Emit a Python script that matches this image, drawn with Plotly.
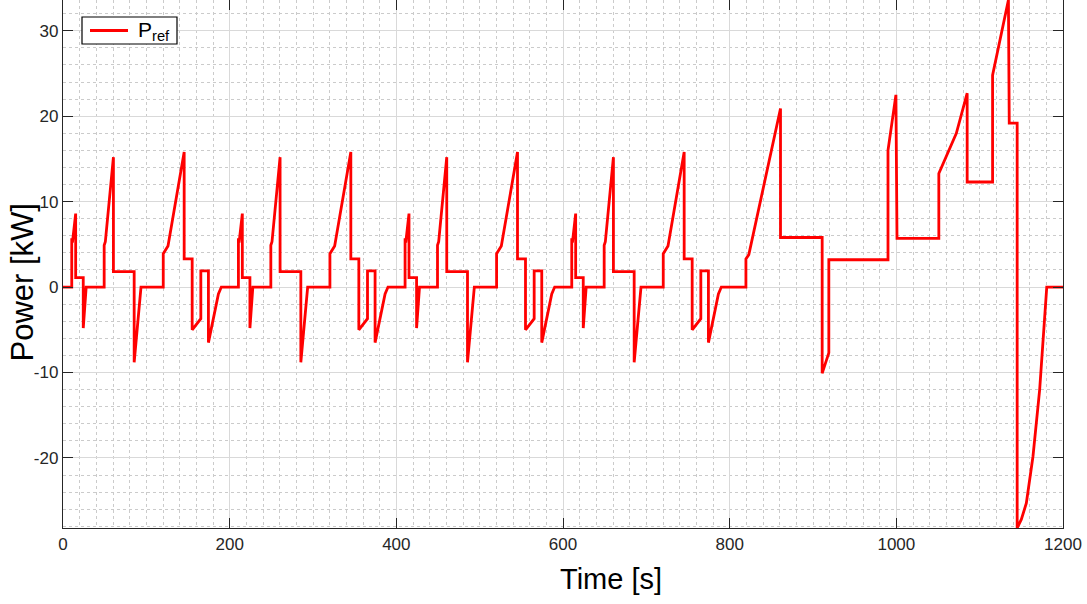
import plotly.graph_objects as go

# ---- data (time in s, power in kW) ----
cycle1_t = [0, 10.5, 10.5, 11.3, 15.2, 15.2, 24.3, 24.3, 27.8, 49.4, 49.4, 50.8, 60.5, 60.5,
            85.4, 85.4, 93.6, 120.3, 120.3, 126.0, 145.4, 145.4, 155.0, 155.0, 165.4, 165.4,
            174.5, 174.5, 186.5, 190.0]
cycle1_p = [0, 0, 5.7, 5.2, 8.6, 1.1, 1.1, -4.8, 0, 0, 4.9, 5.3, 15.2, 1.8,
            1.8, -8.8, 0, 0, 3.9, 4.8, 15.8, 3.3, 3.3, -5.0, -3.7, 1.9,
            1.9, -6.5, -0.8, 0]

cycle2_t = [200, 210.5, 210.5, 211.3, 215.2, 215.2, 224.3, 224.3, 227.8, 249.4, 249.4, 250.8, 260.5, 260.5,
            285.4, 285.4, 293.6, 320.3, 320.3, 326.0, 345.4, 345.4, 355.0, 355.0, 365.4, 365.4,
            374.5, 374.5, 386.5, 390.0]
cycle2_p = [0, 0, 5.7, 5.2, 8.6, 1.1, 1.1, -4.8, 0, 0, 4.9, 5.3, 15.2, 1.8,
            1.8, -8.8, 0, 0, 3.9, 4.8, 15.8, 3.3, 3.3, -5.0, -3.7, 1.9,
            1.9, -6.5, -0.8, 0]

cycle3_t = [400, 410.5, 410.5, 411.3, 415.2, 415.2, 424.3, 424.3, 427.8, 449.4, 449.4, 450.8, 460.5, 460.5,
            485.4, 485.4, 493.6, 520.3, 520.3, 526.0, 545.4, 545.4, 555.0, 555.0, 565.4, 565.4,
            574.5, 574.5, 586.5, 590.0]
cycle3_p = [0, 0, 5.7, 5.2, 8.6, 1.1, 1.1, -4.8, 0, 0, 4.9, 5.3, 15.2, 1.8,
            1.8, -8.8, 0, 0, 3.9, 4.8, 15.8, 3.3, 3.3, -5.0, -3.7, 1.9,
            1.9, -6.5, -0.8, 0]

cycle4_t = [600, 610.5, 610.5, 611.3, 615.2, 615.2, 624.3, 624.3, 627.8, 649.4, 649.4, 650.8, 660.5, 660.5,
            685.4, 685.4, 693.6, 720.3, 720.3, 726.0, 745.4, 745.4, 755.0, 755.0, 765.4, 765.4,
            774.5, 774.5, 786.5, 790.0]
cycle4_p = [0, 0, 5.7, 5.2, 8.6, 1.1, 1.1, -4.8, 0, 0, 4.9, 5.3, 15.2, 1.8,
            1.8, -8.8, 0, 0, 3.9, 4.8, 15.8, 3.3, 3.3, -5.0, -3.7, 1.9,
            1.9, -6.5, -0.8, 0]

extra_t = [800, 819.5, 819.5, 823.0, 861.0, 861.0, 911.0, 911.0, 919.0, 919.0, 990.0, 990.0,
           999.5, 1000.8, 1051.0, 1051.0, 1072.0, 1085.0, 1085.0, 1115.5, 1115.5, 1134.5,
           1135.5, 1145.0, 1145.0, 1150.0, 1156.0, 1164.0, 1172.0, 1178.0, 1180.5, 1200.0]
extra_p = [0, 0, 3.3, 3.8, 20.9, 5.8, 5.8, -10.1, -7.7, 3.2, 3.2, 16.0,
           22.5, 5.7, 5.7, 13.3, 18.0, 22.7, 12.3, 12.3, 24.8, 33.6,
           19.2, 19.2, -28.2, -27.2, -25.3, -19.8, -12.0, -3.5, 0, 0]

time_s = cycle1_t + cycle2_t + cycle3_t + cycle4_t + extra_t
power_kw = cycle1_p + cycle2_p + cycle3_p + cycle4_p + extra_p

x_ticks = [0, 200, 400, 600, 800, 1000, 1200]
x_labels = ["0", "200", "400", "600", "800", "1000", "1200"]
y_ticks = [-20, -10, 0, 10, 20, 30]
y_labels = ["-20", "-10", "0", "10", "20", "30"]

series_name = "P<sub>ref</sub>"
x_title = "Time [s]"
y_title = "Power [kW]"

FONT = "Liberation Sans, Arial, Helvetica, sans-serif"
AX = "#262626"
RED = "#ff0000"

fig = go.Figure()
fig.add_trace(go.Scatter(
    x=time_s, y=power_kw, mode="lines", name=series_name, showlegend=False,
    line=dict(color=RED, width=2.8),
))

common = dict(
    showline=True, linecolor=AX, linewidth=1.3, mirror="ticks",
    ticks="inside", ticklen=10, tickwidth=1.3, tickcolor=AX,
    showgrid=True, gridcolor="#d9d9d9", gridwidth=1,
    zeroline=False,
    tickfont=dict(family=FONT, size=17, color=AX),
)

fig.update_xaxes(
    range=[0, 1200], tickvals=x_ticks, ticktext=x_labels,
    minor=dict(dtick=20, tick0=0, showgrid=True, gridcolor="#cbcbcb", griddash="dot", gridwidth=1, ticks=""),
    **common,
)
fig.update_yaxes(
    range=[-28.2, 33.6], tickvals=y_ticks, ticktext=y_labels,
    minor=dict(dtick=2, tick0=0, showgrid=True, gridcolor="#cbcbcb", griddash="dot", gridwidth=1, ticks=""),
    **common,
)

# legend box drawn in plot-area (paper) coordinates
fig.add_shape(type="rect", xref="paper", yref="paper",
              x0=0.019, x1=0.114, y0=0.9167, y1=0.9678,
              line=dict(color="black", width=1.2), fillcolor="white", layer="above")
fig.add_shape(type="line", xref="paper", yref="paper",
              x0=0.027, x1=0.065, y0=0.9422, y1=0.9422,
              line=dict(color=RED, width=3), layer="above")
fig.add_annotation(text=series_name, xref="paper", yref="paper",
                   x=0.073, y=0.9405, xanchor="left", yanchor="middle",
                   showarrow=False, font=dict(family=FONT, size=21, color="black"))

# axis titles
fig.add_annotation(text=x_title, xref="paper", yref="paper",
                   x=0.548, y=-0.0966, xanchor="center", yanchor="middle",
                   showarrow=False, font=dict(family=FONT, size=29, color="black"))
fig.add_annotation(text=y_title, xref="paper", yref="paper",
                   x=-0.0405, y=0.464, xanchor="center", yanchor="middle", textangle=-90,
                   showarrow=False, font=dict(family=FONT, size=31, color="black"))

fig.update_layout(
    width=1087, height=604,
    margin=dict(l=63, r=24, t=0, b=76),
    paper_bgcolor="white", plot_bgcolor="white",
    showlegend=False,
)

fig.write_html("out.html")
